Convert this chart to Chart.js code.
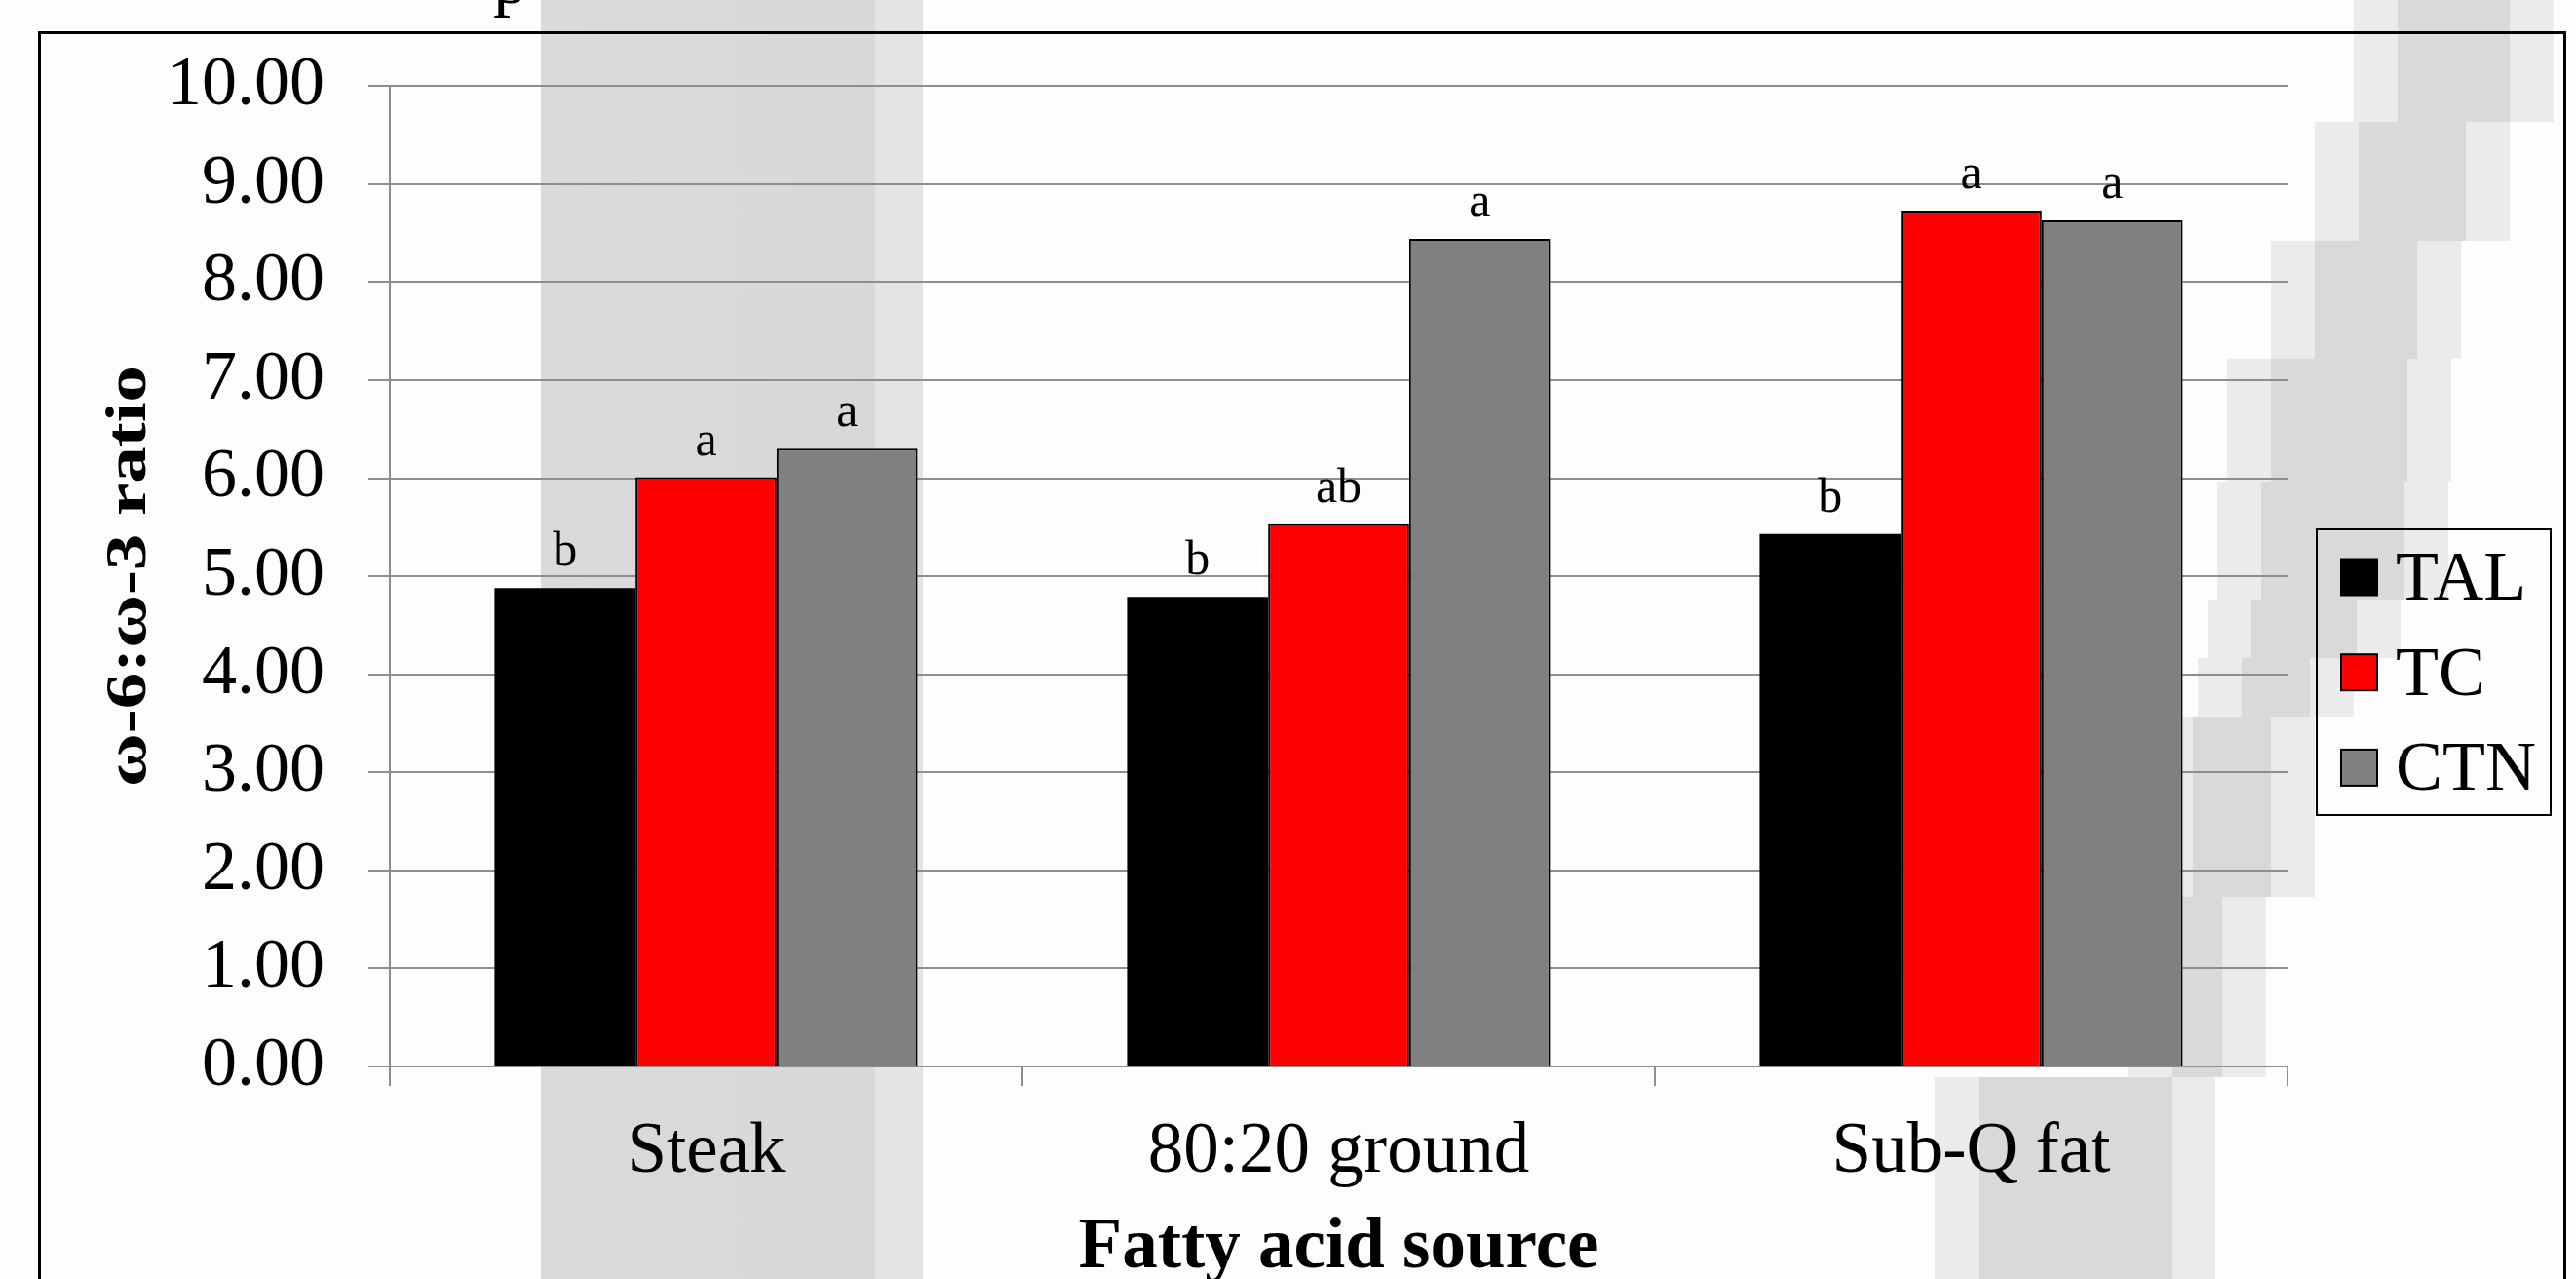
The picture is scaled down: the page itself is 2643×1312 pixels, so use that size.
<!DOCTYPE html>
<html>
<head>
<meta charset="utf-8">
<script src="https://cdn.jsdelivr.net/npm/chart.js@4.4.1/dist/chart.umd.min.js"></script>
<style>
  html, body { margin: 0; padding: 0; }
  body {
    width: 2643px; height: 1312px; overflow: hidden; position: relative;
    background-color: #fdfdfd;
    background-image:
      linear-gradient(90deg, transparent 555px, #dadada 555px, #d8d8d8 898px, #e4e4e4 898px, #e4e4e4 947px, transparent 947px);
  }
  .shade { position: absolute; left: 0; top: 0; width: 2643px; height: 1312px; }
  #halo { background: #ebebeb; }
  #band { background: #d9d9d9; }
  #wrap { position: absolute; left: 0; top: 0; width: 2643px; height: 1400px; }
  #frame {
    position: absolute; left: 39px; top: 32px; width: 2594px; height: 1400px;
    border: 3px solid #000; box-sizing: border-box; pointer-events: none;
  }
  #cut {
    position: absolute; left: 506px; top: -62px;
    font: 72px "Liberation Serif", "Times New Roman", serif; color: #000;
  }
</style>
</head>
<body>
<div class="shade" id="halo"></div>
<div class="shade" id="band"></div>
<div id="cut">p</div>
<div id="wrap"><canvas id="ratioChart" width="2643" height="1400"></canvas></div>
<div id="frame"></div>
<script>
// dane
const categories = ["Steak", "80:20 ground", "Sub-Q fat"];
const seriesNames = ["TAL", "TC", "CTN"];
const talValues = [4.88, 4.79, 5.43];
const tcValues = [6.01, 5.53, 8.73];
const ctnValues = [6.30, 8.44, 8.63];
const talLetters = ["b", "b", "b"];
const tcLetters = ["a", "ab", "a"];
const ctnLetters = ["a", "a", "a"];
const yTicks = [0, 1, 2, 3, 4, 5, 6, 7, 8, 9, 10];

const serif = "'Liberation Serif', 'Times New Roman', serif";
const letters = [talLetters, tcLetters, ctnLetters];

// szare tlo po prawej (schodkowy pas)
const shadeRows = [
    [0, 125, 2460, 2575], [125, 247, 2420, 2530], [247, 368, 2375, 2480],
    [368, 494, 2330, 2470], [494, 615, 2320, 2467], [615, 675, 2310, 2418],
    [675, 736, 2300, 2370], [736, 920, 2250, 2330], [920, 1105, 2228, 2280],
    [1105, 1312, 2030, 2228]
];
function shadePoly(grow) {
    const left = [], right = [];
    shadeRows.forEach(r => {
        left.push((r[2] - grow) + "px " + r[0] + "px", (r[2] - grow) + "px " + r[1] + "px");
        right.unshift((r[3] + grow) + "px " + r[1] + "px", (r[3] + grow) + "px " + r[0] + "px");
    });
    return "polygon(" + left.concat(right).join(",") + ")";
}
document.getElementById("band").style.clipPath = shadePoly(0);
document.getElementById("halo").style.clipPath = shadePoly(45);

Chart.defaults.font.family = serif;
Chart.defaults.color = "#000";

// litery istotnosci nad slupkami
const letterPlugin = {
    id: "letters",
    afterDatasetsDraw(chart) {
        const ctx = chart.ctx;
        ctx.save();
        ctx.font = "50px " + serif;
        ctx.fillStyle = "#000";
        ctx.textAlign = "center";
        ctx.textBaseline = "alphabetic";
        chart.data.datasets.forEach((ds, i) => {
            chart.getDatasetMeta(i).data.forEach((bar, j) => {
                ctx.fillText(letters[i][j], bar.x, bar.y - 23);
            });
        });
        ctx.restore();
    }
};

// tytul osi Y (rozciagniety jak w oryginale)
const yTitlePlugin = {
    id: "yTitle",
    afterDraw(chart) {
        const ctx = chart.ctx;
        const text = "ω-6:ω-3 ratio";
        ctx.save();
        ctx.font = "bold 59px " + serif;
        const w = ctx.measureText(text).width;
        ctx.translate(149, 591);
        ctx.rotate(-Math.PI / 2);
        ctx.scale(432 / w, 1);
        ctx.textAlign = "center";
        ctx.textBaseline = "alphabetic";
        ctx.fillStyle = "#000";
        ctx.fillText(text, 0, 0);
        ctx.restore();
    }
};

// legenda w ramce
const legendPlugin = {
    id: "boxLegend",
    afterDraw(chart) {
        const ctx = chart.ctx;
        ctx.save();
        ctx.lineWidth = 2;
        ctx.strokeStyle = "#000";
        ctx.strokeRect(2377, 543, 240, 293);
        ctx.font = "72px " + serif;
        ctx.textBaseline = "alphabetic";
        ctx.textAlign = "left";
        chart.data.datasets.forEach((ds, i) => {
            const cy = 592 + i * 97.7;
            ctx.fillStyle = ds.backgroundColor;
            ctx.fillRect(2402, cy - 18.5, 37, 37);
            ctx.strokeRect(2402, cy - 18.5, 37, 37);
            ctx.fillStyle = "#000";
            ctx.fillText(ds.label, 2458, cy + 23);
        });
        ctx.restore();
    }
};

const colors = ["#000000", "#ff0000", "#808080"];
const values = [talValues, tcValues, ctnValues];

const ratioChart = new Chart(document.getElementById("ratioChart"), {
    type: "bar",
    data: {
        labels: categories,
        datasets: seriesNames.map((name, i) => ({
            label: name,
            data: values[i],
            backgroundColor: colors[i],
            borderColor: "#000",
            borderWidth: i === 0 ? 0 : 2,
            categoryPercentage: 0.669,
            barPercentage: 1
        }))
    },
    options: {
        responsive: false,
        maintainAspectRatio: false,
        devicePixelRatio: 1,
        animation: false,
        layout: { padding: { left: 171, top: 88, right: 296, bottom: 71 } },
        plugins: {
            legend: { display: false },
            tooltip: { enabled: false }
        },
        scales: {
            x: {
                afterFit(scale) { scale.height = 235; },
                grid: {
                    drawOnChartArea: false,
                    drawTicks: true,
                    tickLength: 20,
                    color: "#8e8e8e",
                    lineWidth: 2
                },
                border: { color: "#8e8e8e", width: 2 },
                ticks: { font: { size: 73 }, padding: 25, color: "#000" },
                title: {
                    display: true,
                    text: "Fatty acid source",
                    font: { size: 73, weight: "bold" },
                    padding: { top: 7, bottom: 4 },
                    color: "#000"
                }
            },
            y: {
                min: 0,
                max: 10,
                afterFit(scale) { scale.width = 229; },
                afterBuildTicks(scale) {
                    scale.ticks = yTicks.map(v => ({ value: v }));
                },
                grid: { color: "#8e8e8e", lineWidth: 2, tickLength: 22 },
                border: { color: "#8e8e8e", width: 2 },
                ticks: {
                    font: { size: 72 },
                    padding: 45,
                    color: "#000",
                    callback: v => Number(v).toFixed(2)
                }
            }
        }
    },
    plugins: [letterPlugin, yTitlePlugin, legendPlugin]
});
</script>
</body>
</html>
